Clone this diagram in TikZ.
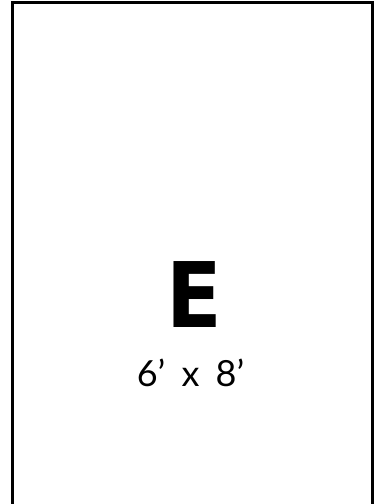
\documentclass[tikz,border=0pt]{standalone}
\usepackage{fontspec}
\setmainfont{Lato}
\newfontfamily\bigfont{DejaVu Sans}[BoldFont={DejaVu Sans Bold}]
\begin{document}
\begin{tikzpicture}[x=1pt,y=-1pt,
  frame/.style={line width=3pt, draw=black},
  bigletter/.style={inner sep=0pt, anchor=base, font=\bigfont\bfseries\fontsize{90.5}{90.5}\selectfont},
  sizelabel/.style={inner sep=0pt, anchor=base, font=\fontsize{36}{36}\selectfont}]
\useasboundingbox (0,0) rectangle (381,504);
\coordinate (bl) at (12.3,506);
\coordinate (tl) at (12.3,2);
\coordinate (tr) at (372.6,2);
\coordinate (br) at (372.6,506);
\draw[frame] (bl) -- (tl) -- (tr) -- (br);
\node[bigletter] (E) at (194,327.3) {\scalebox{0.9}[1]{E}};
\node[sizelabel] (size) at (190.5,386.7) {6’\hspace{0.45em}x\hspace{0.45em}8’};
\end{tikzpicture}
\end{document}
